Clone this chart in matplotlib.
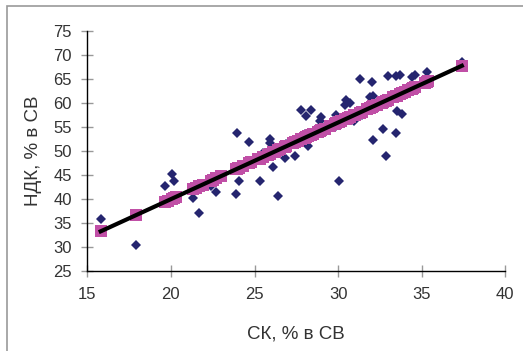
import numpy as np
import matplotlib
matplotlib.use('Agg')
import matplotlib.pyplot as plt
from matplotlib.patches import Rectangle

plt.rcParams['font.family'] = ['Liberation Sans', 'DejaVu Sans']

# СК (crude fibre), % of dry matter
sk = [15.8, 17.9, 19.65, 20.05, 20.2, 21.3, 21.7, 22.4, 22.7, 23.9,
      24.1, 23.95, 24.7, 25.3, 25.9, 26.1, 26.4, 26.8, 27.4, 28.2,
      27.8, 28.4, 28.1, 29.0, 28.9, 29.9, 30.05, 30.5, 30.7, 30.4,
      30.96, 31.3, 32.0, 31.9, 32.1, 32.1, 32.7, 32.85, 33.0, 33.45,
      33.7, 33.45, 33.5, 33.8, 33.85, 34.4, 34.6, 35.3, 37.4, 25.9,
      19.8, 20.3, 21.5, 21.9, 22.5, 23.0, 24.0, 24.3, 24.8, 25.2,
      25.5, 25.8, 26.2, 26.5, 26.9, 27.3, 27.6, 28.0, 28.5, 28.8,
      29.2, 29.5, 29.8, 30.2, 30.6, 31.0, 31.4, 31.7, 32.3, 32.6,
      33.0, 33.3, 34.0, 34.2, 34.5, 35.2, 35.4]
# НДК (NDF), % of dry matter
ndk = [35.8, 30.4, 42.7, 45.3, 43.8, 40.2, 37.0, 42.8, 41.5, 41.0,
       43.7, 53.8, 51.8, 43.8, 52.4, 46.7, 40.6, 48.5, 49.0, 51.0,
       58.6, 58.5, 57.3, 57.1, 56.3, 57.5, 43.75, 60.6, 60.0, 59.5,
       56.3, 65.0, 64.3, 61.3, 61.4, 52.3, 54.5, 49.0, 65.7, 65.7,
       65.9, 53.8, 58.4, 57.8, 61.5, 65.4, 65.8, 66.5, 68.6, 51.6,
       39.5, 40.5, 42.5, 43.0, 44.0, 44.5, 46.5, 47.0, 48.0, 48.2,
       49.5, 49.0, 50.2, 50.5, 51.5, 52.0, 52.5, 53.5, 53.0, 54.5,
       54.2, 55.5, 55.0, 56.5, 57.0, 58.0, 57.5, 59.0, 59.5, 60.0,
       60.5, 61.0, 62.5, 62.0, 63.0, 64.5, 64.0]

x = np.array(sk)
y = np.array(ndk)

# linear regression (predicted values + trendline)
slope, intercept = np.polyfit(x, y, 1)
y_pred = intercept + slope * x
x_line = np.array([x.min(), x.max()])

fig = plt.figure(figsize=(5.23, 3.51), dpi=100)
ax = fig.add_axes([87.3 / 523, 80 / 351, 418 / 523, 240 / 351])

ax.plot(x, y, 'D', color='#25256F', ms=5.4, mew=0, zorder=2)
ax.plot(x, y_pred, 's', color='#C04FA6', ms=8, mew=0, zorder=3)
ax.plot(x_line, intercept + slope * x_line, '-', color='black', lw=3, zorder=4)

ax.set_xlim(15, 40)
ax.set_ylim(25, 75)
ax.set_xticks(range(15, 41, 5))
ax.set_yticks(range(25, 76, 5))

for side in ['top', 'right']:
    ax.spines[side].set_visible(False)
for side in ['left', 'bottom']:
    ax.spines[side].set_color('black')
    ax.spines[side].set_linewidth(1)

ax.tick_params(direction='inout', length=8, width=1, color='#999999',
               labelsize=12, labelcolor='#333333')
ax.tick_params(axis='x', pad=7.5)
ax.tick_params(axis='y', pad=7)

ax.set_xlabel('СК, % в СВ', fontsize=13.5, color='#333333', labelpad=17)
ax.set_ylabel('НДК, % в СВ', fontsize=13.5, color='#333333', labelpad=8)

# outer chart border
fig.patches.append(Rectangle((7 / 523, -0.1), 1.2, (351 - 6) / 351 + 0.1,
                             transform=fig.transFigure, fill=False,
                             edgecolor='#999999', lw=1.2))

fig.savefig('out.png', dpi=100)
